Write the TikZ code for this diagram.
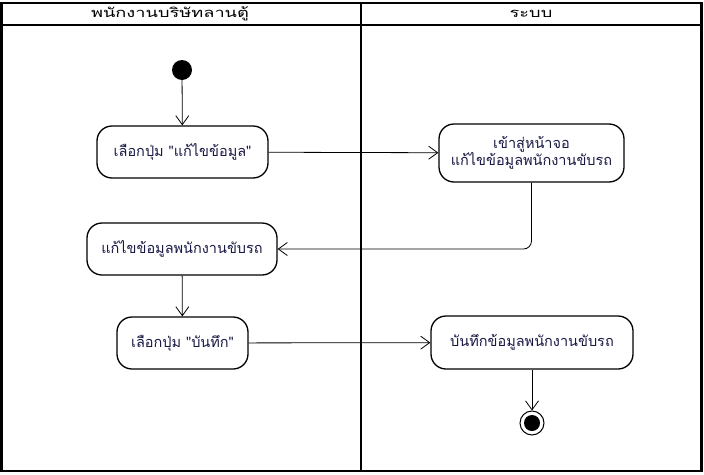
\documentclass[tikz,border=0pt]{standalone}
\usepackage{fontspec}
\newfontfamily\thaifont[Script=Thai]{Loma}
\newfontfamily\thaiwide[Script=Thai,FakeStretch=1.4]{Loma}
\usetikzlibrary{arrows.meta}
\definecolor{txt}{RGB}{25,25,70}
\begin{document}
\begin{tikzpicture}[x=1pt,y=-1pt,
  every node/.style={font=\thaifont\fontsize{14.5}{17}\selectfont, text=txt},
  action/.style={draw=black, line width=1.3pt, rounded corners=15pt, fill=white, align=center, inner sep=0pt},
  flow/.style={draw=black, line width=0.8pt, -{Straight Barb[length=9pt,width=13pt,line width=0.8pt]}},
  lane/.style={draw=black, line width=2.5pt},
  head/.style={font=\thaiwide\fontsize{13}{15}\selectfont, text=black}]
\useasboundingbox (0,0) rectangle (704,474);
\fill[white] (0,0) rectangle (704,474);
% swimlane frame
\draw[lane] (1.5,3) rectangle (701.5,471);
\draw[lane] (361,3) -- (361,471);
\draw[draw=black, line width=1.2pt] (1.5,25) -- (701.5,25);
\node[head] (h1) at (170,14) {พนักงานบริษัทลานตู้};
\node[head] (h2) at (531,14) {ระบบ};
% start and end
\node[circle, fill=black, minimum size=20pt, inner sep=0pt] (start) at (182,70) {};
\node[circle, draw=black, line width=1pt, minimum size=24pt, inner sep=0pt] (stop) at (532,423) {};
\node[circle, fill=black, minimum size=16pt, inner sep=0pt] (stopdot) at (532,423) {};
% actions
\node[action, minimum width=171pt, minimum height=52pt] (a) at (182.5,152) {เลือกปุ่ม "แก้ไขข้อมูล"};
\node[action, minimum width=185pt, minimum height=58pt] (b) at (531.5,153) {เข้าสู่หน้าจอ\\แก้ไขข้อมูลพนักงานขับรถ};
\node[action, minimum width=190pt, minimum height=52pt] (c) at (182,249) {แก้ไขข้อมูลพนักงานขับรถ};
\node[action, minimum width=131pt, minimum height=52pt] (d) at (182.5,343) {เลือกปุ่ม "บันทึก"};
\node[action, minimum width=202pt, minimum height=53pt] (e) at (532,342.5) {บันทึกข้อมูลพนักงานขับรถ};
% flows
\draw[flow] (start) -- (a);
\draw[flow] (a) -- (b);
\draw[flow, rounded corners=8pt] (b.south) |- (c.east);
\draw[flow] (c) -- (d);
\draw[flow] (d) -- (e);
\draw[flow] (e) -- (stop);
\end{tikzpicture}
\end{document}
